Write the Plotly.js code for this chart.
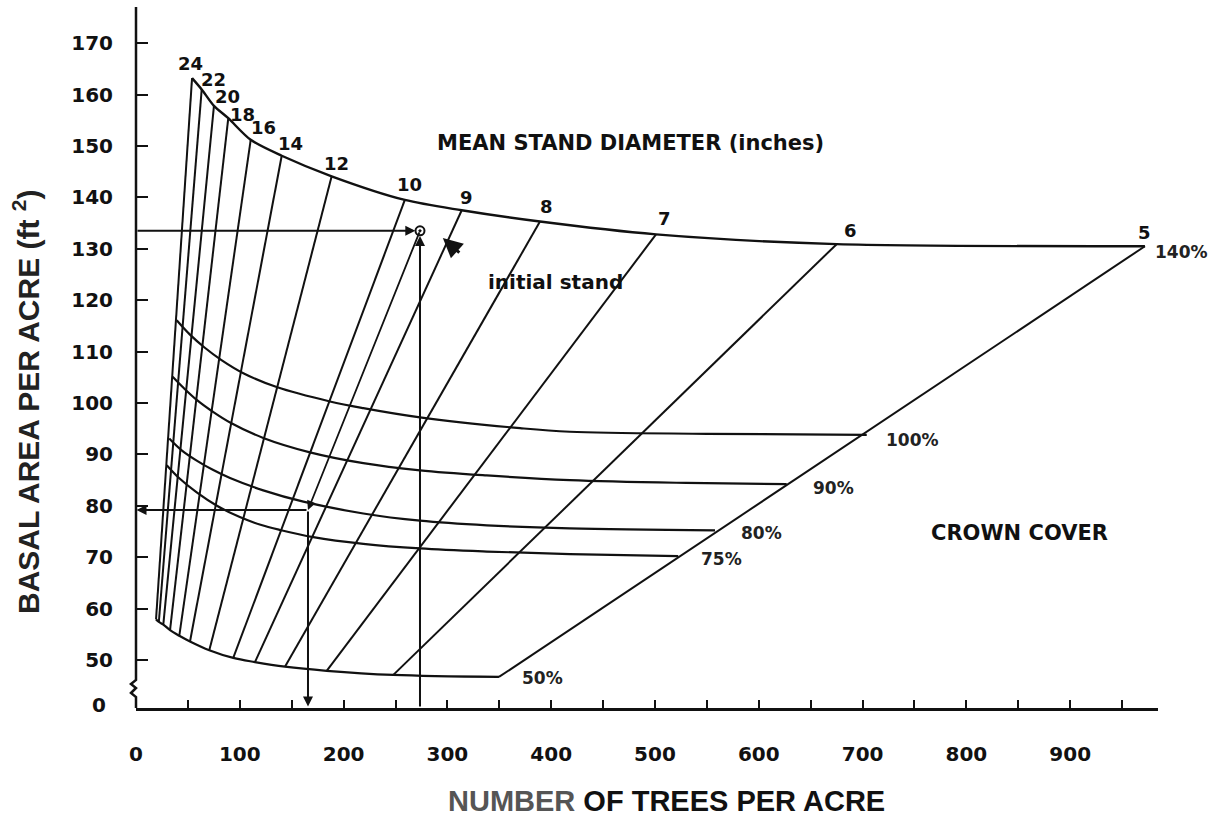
<!DOCTYPE html>
<html><head><meta charset="utf-8">
<script src="https://cdn.plot.ly/plotly-3.0.1.min.js"></script>
<style>html,body{margin:0;padding:0;background:#fff;} #chart{width:1218px;height:819px;}</style>
</head><body><div id="chart"></div>
<script>
// ---- data ----
const diameterLabels = ['24','22','20','18','16','14','12','10','9','8','7','6','5'];
const diamTopN  = [54, 63.3, 75.1, 88.9, 110.5, 140.4, 188.5, 259, 313.8, 389.2, 501, 675, 972];
const diamTopBA = [163.2, 161.0, 157.8, 155.4, 151.2, 148.1, 144.1, 139.5, 137.5, 135.3, 132.8, 130.9, 130.5];
const diamBotN  = [19.3, 22.0, 26.3, 32.8, 41.7, 52.0, 70.6, 93.7, 114.6, 143.5, 183.7, 247.9, 349.7];
const diamBotBA = [57.9, 57.4, 56.9, 55.8, 54.7, 53.6, 51.9, 50.4, 49.6, 48.7, 47.9, 47.1, 46.7];

const cover100N  = [39.2, 52, 66, 82, 103.4, 135.5, 186.9, 219, 273.6, 370, 418, 550, 704];
const cover100BA = [116.1, 113.3, 110.8, 108.4, 105.8, 103.1, 100.3, 99.0, 97.2, 95.1, 94.4, 94.0, 93.8];
const cover90N   = [35.3, 46, 58.5, 74, 90.6, 122.6, 167.6, 219, 273.6, 337.9, 418, 530, 626.9];
const cover90BA  = [105.1, 102.9, 100.6, 98.3, 96.2, 93.2, 90.4, 88.3, 86.9, 85.9, 85.0, 84.45, 84.2];
const cover80N   = [32, 44, 58.5, 74, 90.6, 122.6, 161.2, 219, 273.6, 338, 418, 557.8];
const cover80BA  = [93.1, 90.8, 88.8, 87.0, 85.4, 83.0, 80.8, 78.5, 77.1, 76.2, 75.6, 75.2];
const cover75N   = [29.6, 42, 58.5, 78, 100, 120, 138.7, 170.8, 219, 273.6, 338, 418, 522.4];
const cover75BA  = [87.9, 85.3, 82.6, 80.0, 77.8, 76.3, 75.3, 73.9, 72.6, 71.7, 71.1, 70.6, 70.2];

const coverLabels  = ['100%', '90%', '80%', '75%', '50%'];
const coverLabelN  = [748.5, 671.5, 603, 564.5, 392];
const coverLabelBA = [92.8, 83.5, 74.7, 69.6, 46.5];
const topLabel = '140%';

const initialN = 273.6, initialBA = 133.5;
const thinnedN = 165.7, thinnedBA = 79.2;

const xTickVals = [0,50,100,150,200,250,300,350,400,450,500,550,600,650,700,750,800,850,900,950];
const xTickText = ['0','','100','','200','','300','','400','','500','','600','','700','','800','','900',''];
const yTickVals = [50,60,70,80,90,100,110,120,130,140,150,160,170];
const yTickText = ['50','60','70','80','90','100','110','120','130','140','150','160','170'];

// ---- styles ----
const INK = '#111';
const FONT = 'DejaVu Sans, Verdana, sans-serif';
const TITLEFONT = 'Liberation Sans, Arial, sans-serif';
const diamLabelShift = [[-2,15],[12,10],[14,9],[14,4],[13,12],[9,12],[5,13],[5,15],[5,13],[7,15],[8,16],[14,14],[0,14]];
const Y0 = 40.66, Y1 = 177.04, X1 = 984.6;
const W = 1022, H = 701, L = 136, T = 7;
const paperX = p => (p - L) / W;
const paperY = p => (T + H - p) / H;

const traces = [];
for (let i = 0; i < diameterLabels.length; i++) {
  traces.push({x:[diamBotN[i], diamTopN[i]], y:[diamBotBA[i], diamTopBA[i]], mode:'lines',
    line:{color:INK, width:2}, hoverinfo:'skip'});
}
// 140% (upper) and 50% (lower) limits through the ends of the diameter lines
traces.push({x:diamTopN, y:diamTopBA, mode:'lines', line:{color:INK, width:2.4, shape:'spline', smoothing:0.8}});
traces.push({x:diamBotN, y:diamBotBA, mode:'lines', line:{color:INK, width:2.2, shape:'spline', smoothing:1}});
[[cover100N,cover100BA],[cover90N,cover90BA],[cover80N,cover80BA],[cover75N,cover75BA]].forEach(c => {
  traces.push({x:c[0], y:c[1], mode:'lines', line:{color:INK, width:2.2, shape:'spline', smoothing:1}});
});
// initial stand marker
traces.push({x:[initialN], y:[initialBA], mode:'markers',
  marker:{symbol:'circle-open-dot', size:9, color:INK, line:{width:2, color:INK}}});

const annotations = [];
diameterLabels.forEach((t, i) => {
  annotations.push({x:diamTopN[i], y:diamTopBA[i], text:t, showarrow:false,
    xshift:diamLabelShift[i][0], yshift:diamLabelShift[i][1],
    font:{family:FONT, size:18, color:INK, weight:'bold'}});
});
coverLabels.forEach((t, i) => {
  annotations.push({x:coverLabelN[i], y:coverLabelBA[i], text:t, showarrow:false,
    font:{family:FONT, size:17, color:'#222', weight:'bold'}});
});
annotations.push({x:diamTopN[12], y:diamTopBA[12], text:topLabel, showarrow:false, xshift:37, yshift:-6,
  font:{family:FONT, size:17, color:'#222', weight:'bold'}});

const arrowBase = {showarrow:true, arrowhead:2, arrowsize:1, arrowwidth:2, arrowcolor:INK,
  axref:'x', ayref:'y', text:'', standoff:0, startstandoff:0};
// initial stand: horizontal and vertical readings
annotations.push(Object.assign({}, arrowBase, {x:initialN-4.5, y:initialBA, ax:0, ay:initialBA}));
annotations.push(Object.assign({}, arrowBase, {x:initialN, y:initialBA-1, ax:initialN, ay:Y0}));
// thinning along constant diameter and readings
annotations.push(Object.assign({}, arrowBase, {x:thinnedN, y:thinnedBA, ax:initialN, ay:initialBA, arrowwidth:1.8}));
annotations.push(Object.assign({}, arrowBase, {x:0.5, y:thinnedBA, ax:thinnedN, ay:thinnedBA}));
annotations.push(Object.assign({}, arrowBase, {x:thinnedN, y:Y0+0.3, ax:thinnedN, ay:thinnedBA}));
// pointer to the initial stand
annotations.push({x:initialN+22, y:initialBA-1.4, ax:18, ay:16, text:'', showarrow:true,
  arrowhead:2, arrowsize:1.3, arrowwidth:3, arrowcolor:INK});
annotations.push({x:403.7, y:123.5, text:'initial stand', showarrow:false,
  font:{family:FONT, size:20, color:INK, weight:'bold'}});

const centered = {xref:'paper', yref:'paper', xanchor:'center', yanchor:'middle', showarrow:false};
annotations.push(Object.assign({}, centered, {x:paperX(630), y:paperY(143), text:'MEAN STAND DIAMETER (inches)',
  font:{family:FONT, size:21, color:INK, weight:'bold'}}));
annotations.push(Object.assign({}, centered, {x:paperX(1019), y:paperY(533), text:'CROWN COVER',
  font:{family:FONT, size:21, color:INK, weight:'bold'}}));
annotations.push(Object.assign({}, centered, {x:paperX(108), y:paperY(705), text:'0', xanchor:'right',
  font:{family:FONT, size:20, color:INK, weight:'bold'}}));
annotations.push(Object.assign({}, centered, {x:paperX(26), y:paperY(402), textangle:-90,
  text:'BASAL AREA PER ACRE (ft <sup>2</sup>)',
  font:{family:TITLEFONT, size:30, color:'#222', weight:'bold'}}));
annotations.push(Object.assign({}, centered, {x:paperX(666), y:paperY(801),
  text:'<span style="color:#555">NUMBER</span> OF TREES PER ACRE',
  font:{family:TITLEFONT, size:29, color:INK, weight:'bold'}}));

const bTop = paperY(680), px = 1/W, py = 1/H;
const shapes = [
  {type:'path', xref:'paper', yref:'paper', line:{color:INK, width:2.5},
   path:`M 0,1 L 0,${bTop} L ${-5*px},${bTop-4*py} L 0,${bTop-8*py} L ${-5*px},${bTop-13*py} L 0,${bTop-17*py} L 0,0`}
];

const layout = {
  width:1218, height:819, margin:{l:L, r:1218-L-W, t:T, b:819-T-H},
  paper_bgcolor:'#fff', plot_bgcolor:'#fff', showlegend:false,
  xaxis:{range:[0, X1], showgrid:false, zeroline:false, showline:true, linecolor:INK, linewidth:2.5,
    ticks:'inside', ticklen:8, tickwidth:2, tickcolor:INK, tickvals:xTickVals, ticktext:xTickText,
    ticklabelstandoff:26, tickfont:{family:FONT, size:20, color:INK, weight:'bold'}},
  yaxis:{range:[Y0, Y1], showgrid:false, zeroline:false, showline:false,
    ticks:'inside', ticklen:12, tickwidth:2, tickcolor:INK, tickvals:yTickVals, ticktext:yTickText,
    ticklabelstandoff:22, tickfont:{family:FONT, size:20, color:INK, weight:'bold'}},
  annotations, shapes
};
Plotly.newPlot('chart', traces, layout, {staticPlot:true});
</script></body></html>
